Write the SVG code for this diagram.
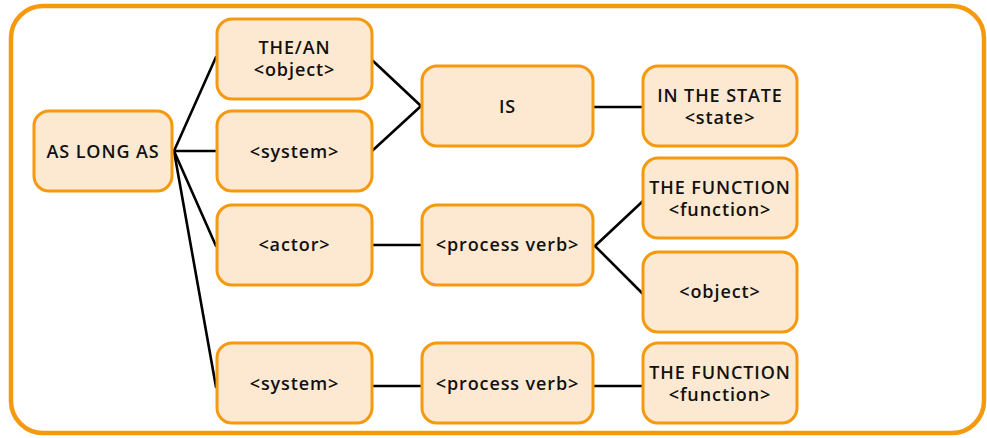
<svg xmlns="http://www.w3.org/2000/svg" width="987" height="438" viewBox="0 0 987 438">
<style>
.frame{fill:#fff;stroke:#f5990f;stroke-width:4.5}
.node rect{fill:#fde9d2;stroke:#f5990f;stroke-width:3}
.node text{font-family:"Open Sans","Liberation Sans",sans-serif;font-weight:600;font-size:18px;letter-spacing:0.9px;fill:#111;text-anchor:middle}
#connectors line{stroke:#000;stroke-width:2.6;stroke-linecap:round}
</style>
<rect class="frame" x="11" y="6" width="973" height="427" rx="32"/>
<g id="connectors">
<line x1="174" y1="151" x2="216" y2="57"/>
<line x1="174" y1="151" x2="216" y2="151"/>
<line x1="174" y1="151" x2="216" y2="246"/>
<line x1="174" y1="151" x2="216" y2="387"/>
<line x1="372" y1="60" x2="421" y2="106"/>
<line x1="372" y1="151" x2="421" y2="106"/>
<line x1="594" y1="107" x2="643" y2="107"/>
<line x1="372" y1="245" x2="422" y2="245"/>
<line x1="595" y1="246" x2="643" y2="201"/>
<line x1="595" y1="246" x2="643" y2="294"/>
<line x1="372" y1="386" x2="422" y2="386"/>
<line x1="594" y1="386" x2="643" y2="386"/>
</g>
<g id="n_aslongas" class="node"><rect x="34" y="111" width="138" height="80" rx="15"/><text x="103" y="158">AS LONG AS</text></g>
<g id="n_thean" class="node"><rect x="217" y="19" width="155" height="80" rx="15"/><text x="294.5" y="54">THE/AN</text><text x="294.5" y="76">&lt;object&gt;</text></g>
<g id="n_system1" class="node"><rect x="217" y="111" width="155" height="80" rx="15"/><text x="294.5" y="158">&lt;system&gt;</text></g>
<g id="n_actor" class="node"><rect x="217" y="205" width="155" height="80" rx="15"/><text x="294.5" y="251">&lt;actor&gt;</text></g>
<g id="n_system2" class="node"><rect x="217" y="343" width="155" height="80" rx="15"/><text x="294.5" y="390">&lt;system&gt;</text></g>
<g id="n_is" class="node"><rect x="422" y="66" width="171" height="80" rx="15"/><text x="507.5" y="113">IS</text></g>
<g id="n_pv1" class="node"><rect x="422" y="205" width="171" height="80" rx="15"/><text x="507.5" y="251">&lt;process verb&gt;</text></g>
<g id="n_pv2" class="node"><rect x="422" y="343" width="171" height="80" rx="15"/><text x="507.5" y="390">&lt;process verb&gt;</text></g>
<g id="n_state" class="node"><rect x="643" y="66" width="154" height="80" rx="15"/><text x="720" y="102">IN THE STATE</text><text x="720" y="124">&lt;state&gt;</text></g>
<g id="n_func1" class="node"><rect x="643" y="158" width="154" height="80" rx="15"/><text x="720" y="194">THE FUNCTION</text><text x="720" y="216">&lt;function&gt;</text></g>
<g id="n_object" class="node"><rect x="643" y="252" width="154" height="80" rx="15"/><text x="720" y="298">&lt;object&gt;</text></g>
<g id="n_func2" class="node"><rect x="643" y="343" width="154" height="80" rx="15"/><text x="720" y="379">THE FUNCTION</text><text x="720" y="401">&lt;function&gt;</text></g>
</svg>
